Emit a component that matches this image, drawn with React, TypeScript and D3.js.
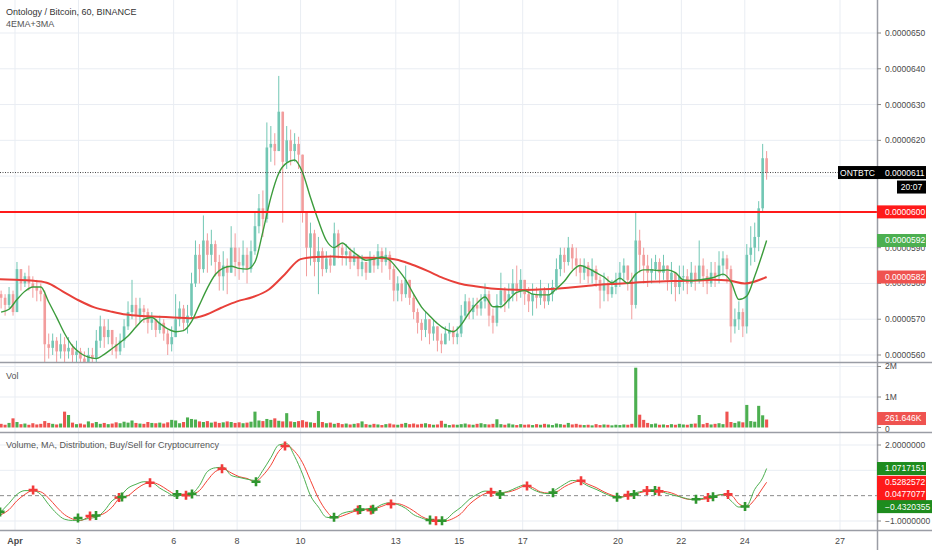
import React from "react";
import * as d3 from "d3";

// ---------- DATA ----------
// 3-hour candles [close, high, low] in units of 1e-7 BTC, starting 2019-03-31 12:00 UTC
const firstOpen = 577;
const candles: number[][] = [
  // Mar 31 (12:00-21:00)
  [576, 578, 573], [574, 577, 571], [577, 579, 573], [572, 578, 571],
  // Apr 1
  [584, 586, 572], [580, 583, 578], [582, 583, 579], [580, 585, 578], [579, 582, 576], [578, 581, 575], [577, 580, 575], [563, 578, 558],
  // Apr 2
  [562, 566, 559], [564, 566, 560], [561, 565, 558], [563, 566, 559], [561, 565, 558], [562, 565, 559], [560, 563, 557], [561, 564, 557],
  // Apr 3
  [559, 562, 556], [558, 561, 555], [560, 562, 556], [559, 562, 556], [564, 567, 558], [568, 571, 562], [565, 570, 562], [567, 570, 563],
  // Apr 4
  [563, 567, 560], [561, 565, 559], [564, 566, 560], [568, 570, 562], [572, 575, 567], [574, 581, 570], [571, 576, 568], [573, 576, 569],
  // Apr 5
  [572, 574, 569], [569, 573, 566], [570, 572, 567], [567, 570, 565], [569, 571, 566], [566, 570, 564], [563, 567, 560], [565, 568, 561],
  // Apr 6
  [570, 577, 566], [573, 575, 568], [569, 574, 567], [571, 574, 566], [580, 583, 570], [588, 592, 579], [584, 591, 580], [592, 599, 583],
  // Apr 7
  [588, 594, 583], [591, 595, 585], [586, 592, 582], [582, 588, 578], [585, 589, 578], [583, 587, 577], [590, 596, 584], [586, 594, 582],
  // Apr 8
  [585, 590, 581], [588, 592, 583], [584, 590, 580], [589, 592, 583], [596, 600, 588], [601, 605, 594], [598, 606, 593], [618, 625, 597],
  // Apr 9
  [619, 624, 614], [617, 622, 613], [628, 638, 619], [614, 628, 597], [620, 624, 612], [617, 623, 613], [619, 622, 614], [616, 621, 612],
  // Apr 10
  [600, 614, 597], [590, 600, 582], [594, 597, 585], [586, 595, 582], [589, 593, 577], [584, 590, 582], [587, 589, 583], [585, 588, 583],
  // Apr 11
  [594, 597, 588], [590, 595, 587], [588, 591, 585], [589, 591, 585], [586, 590, 584], [588, 590, 585], [584, 587, 582], [586, 588, 582],
  // Apr 12
  [583, 586, 581], [587, 589, 583], [585, 588, 583], [589, 591, 584], [586, 590, 583], [588, 590, 585], [584, 589, 581], [578, 585, 575],
  // Apr 13
  [580, 582, 575], [577, 581, 575], [581, 585, 576], [576, 581, 574], [572, 577, 570], [569, 573, 566], [567, 570, 564], [570, 572, 565],
  // Apr 14
  [566, 570, 563], [568, 570, 564], [564, 568, 561], [563, 566, 560.5], [566, 568, 563], [567, 569, 564], [565, 568, 563], [566, 568, 563],
  // Apr 15
  [571, 574, 565], [575, 577, 570], [572, 576, 570], [574, 576, 570], [573, 576, 571], [575, 577, 571], [577, 580, 573], [571, 578, 568],
  // Apr 16
  [569, 573, 566], [574, 577, 568], [578, 583, 573], [575, 579, 572], [577, 580, 573], [580, 584, 575], [578, 585, 575], [581, 584, 576],
  // Apr 17
  [577, 580, 574], [575, 579, 572], [577, 580, 571], [576, 579, 573], [578, 581, 574], [575, 579, 573], [577, 580, 574], [579, 581, 575],
  // Apr 18
  [584, 587, 578], [588, 590, 582], [586, 590, 583], [590, 593, 585], [587, 591, 584], [585, 590, 582], [583, 587, 580], [585, 587, 581],
  // Apr 19
  [582, 586, 580], [584, 587, 580], [581, 585, 579], [578, 582, 573], [580, 583, 575], [577, 582, 575], [579, 581, 576], [581, 583, 577],
  // Apr 20
  [583, 586, 579], [585, 587, 581], [581, 585, 578], [574, 583, 570], [592, 600, 573], [588, 595, 583], [585, 590, 580], [583, 588, 579],
  // Apr 21
  [584, 587, 580], [586, 588, 581], [583, 587, 580], [585, 588, 581], [581, 585, 578], [583, 586, 577], [579, 583, 575], [582, 585, 577],
  // Apr 22
  [582, 585, 578], [580, 584, 577], [583, 586, 579], [581, 585, 578], [585, 592, 580], [582, 587, 579], [580, 584, 577], [583, 586, 579],
  // Apr 23
  [582, 586, 579], [585, 589, 580], [587, 589, 582], [584, 588, 580], [568, 585, 563.5], [570, 573, 566], [572, 575, 567], [568, 573, 565],
  // Apr 24 (00:00-15:00)
  [588, 591, 566], [590, 596, 585], [593, 597, 586], [601, 603, 589], [615, 619, 600], [611, 617, 609],
];

// volume per candle, thousands
const volumesK = [
  120, 90, 150, 300,
  180, 110, 130, 90, 140, 100, 120, 210,
  150, 120, 100, 130, 520, 410, 160, 110,
  130, 100, 200, 140, 180, 120, 150, 110,
  130, 170, 140, 190, 160, 230, 150, 130,
  120, 180, 150, 140, 160, 130, 170, 250,
  230, 140, 180, 330, 280, 260, 200, 180,
  210, 160, 190, 150, 170, 200, 180, 150,
  170, 140, 160, 190, 520, 230, 210, 280,
  250, 300, 220, 200, 470, 200, 180, 210,
  240, 190, 170, 150, 540, 180, 140, 160,
  120, 150, 110, 130, 100, 120, 140, 200,
  110, 90, 120, 100, 80, 110, 130, 100,
  90, 120, 150, 110, 130, 100, 120, 140,
  110, 90, 100, 220, 120, 80, 100, 90,
  110, 130, 100, 90, 120, 140, 110, 100,
  120, 270, 110, 90, 130, 100, 80, 110,
  90, 100, 80, 110, 90, 120, 100, 80,
  130, 110, 90, 150, 100, 120, 90, 80,
  90, 70, 110, 80, 100, 90, 70, 90,
  80, 100, 90, 120, 1960, 420, 250, 150,
  110, 130, 90, 100, 80, 110, 90, 120,
  100, 90, 120, 130, 410, 110, 150, 100,
  120, 140, 110, 520, 180, 150, 200, 170,
  740, 210, 190, 710, 400, 261.646,
];

// fast EMA (green), every 6h from Mar 31 13:30, plus last value
const fastMA = [
  572, 572.8, 575.5, 577.8, 579, 579, 574.8, 570.5, 566, 562.5,
  560.5, 559.4, 559, 560.2, 561.8, 563.5, 565.3, 567.8, 570, 570.5,
  568.8, 567.3, 566.5, 566.8, 569.3, 574, 578.7, 582.5, 584.3, 584.8,
  584.2, 584, 586, 594.5, 604, 610.8, 613.7, 614.5, 611, 604,
  597.5, 592, 590, 591.3, 589.5, 587.8, 586.5, 586.8, 587.4, 586.5,
  584, 581, 577, 573.4, 571, 568.8, 567.2, 566.5, 568.5, 571.8,
  574.5, 576.2, 573.5, 573.5, 575.5, 577.5, 578, 577, 576.8, 576.8,
  578.5, 580.6, 583.5, 585, 584.2, 583, 581.8, 580.2, 581.5, 580,
  582.6, 583.8, 583.8, 583.6, 583.8, 583, 581, 580.8, 581, 581.3,
  581.8, 582.6, 580.5, 575.5, 576.5, 582, 588.5,
];
const fastMALast = 592;

// slow MA (red), every 12h from Mar 31 12:00, plus last value
const slowMA = [
  581.2, 581, 580.8, 580.2, 577.8, 575.3, 573.3, 572.2, 571.3, 570.9,
  570.7, 570.5, 570.3, 571.2, 573.2, 575, 576.2, 578.3, 582.5, 586.8,
  587.4, 587.5, 587.3, 587.2, 587.1, 586.7, 585.3, 583.5, 581.5, 580,
  579.2, 578.6, 578.3, 578.2, 578.3, 578.5, 578.9, 579.3, 579.7, 579.9,
  580.2, 580.5, 580.6, 580.7, 580.8, 581, 580.8, 580,
];
const slowMALast = 581.8;

// oscillator, every 6h, plus last value
const oscFast = [
  -0.63, -0.3, 0.05, 0.2, 0.2, 0.05, -0.35, -0.7, -0.93, -0.98,
  -0.97, -0.9, -0.85, -0.6, -0.2, -0.02, 0.3, 0.45, 0.55, 0.52,
  0.3, 0.12, -0.04, 0.05, 0.08, 0.4, 0.95, 1.1, 1.12, 0.8,
  0.72, 0.65, 0.6, 1.0, 1.5, 2.0, 2.05, 1.55, 0.85, 0.0,
  -0.45, -0.85, -0.88, -0.7, -0.62, -0.58, -0.52, -0.5, -0.35, -0.28,
  -0.35, -0.5, -0.75, -0.88, -0.98, -1.0, -0.95, -0.68, -0.45, -0.15,
  0.05, 0.18, 0.17, 0.12, 0.18, 0.32, 0.42, 0.25, 0.12, 0.08,
  0.25, 0.45, 0.6, 0.55, 0.38, 0.25, 0.1, -0.03, -0.07, 0.02,
  0.12, 0.18, 0.2, 0.18, 0.08, 0.0, -0.08, -0.15, -0.13, -0.08,
  0.0, 0.05, -0.2, -0.45, -0.4, 0.25, 0.7,
];
const oscFastLast = 1.0717151;
const oscSlow = [
  -0.75, -0.55, -0.2, 0.05, 0.2, 0.15, -0.1, -0.45, -0.75, -0.92,
  -0.98, -0.85, -0.8, -0.7, -0.45, -0.08, 0.0, 0.25, 0.45, 0.52,
  0.42, 0.22, 0.05, 0.02, 0.05, 0.2, 0.6, 0.95, 1.05, 0.9,
  0.75, 0.68, 0.55, 0.8, 1.2, 1.75, 1.98, 1.75, 1.3, 0.6,
  -0.1, -0.6, -0.88, -0.8, -0.68, -0.58, -0.55, -0.52, -0.42, -0.32,
  -0.32, -0.42, -0.6, -0.82, -0.95, -1.02, -1.0, -0.9, -0.7, -0.35,
  -0.1, 0.08, 0.15, 0.12, 0.15, 0.25, 0.38, 0.32, 0.15, 0.1,
  0.15, 0.35, 0.5, 0.58, 0.45, 0.32, 0.15, 0.02, -0.05, -0.02,
  0.08, 0.15, 0.2, 0.18, 0.15, 0.05, -0.1, -0.15, -0.15, -0.12,
  -0.02, 0.05, 0.02, -0.32, -0.43, -0.15, 0.3,
];
const oscSlowLast = 0.5282572;
const oscExtraSell = 0.0477077;
const oscExtraBuy = -0.4320355;

// buy (+ green) / sell (+ red) signals: day offset from Apr 1, value, 1 = buy / 0 = sell
const signalDays = [-0.47, 0.57, 1.985, 2.364, 2.553, 3.278, 3.372, 4.255, 5.106, 5.389, 5.578, 6.524, 7.595, 8.509, 10.054, 10.81, 10.873, 11.22, 11.283, 11.85, 13.079, 13.268, 13.457, 15.002, 15.286, 16.136, 16.955, 17.838, 18.973, 19.319, 19.508, 19.918, 20.17, 20.296, 21.462, 21.84, 21.998, 22.471, 23.007];
const signalValues = [-0.64, 0.22, -0.88, -0.8, -0.78, -0.07, -0.05, 0.51, 0.05, 0.02, 0.07, 1.06, 0.55, 1.96, -0.85, -0.57, -0.55, -0.57, -0.54, -0.33, -0.96, -0.99, -0.99, 0.13, 0.05, 0.38, 0.12, 0.59, -0.06, 0.02, 0.05, 0.2, 0.2, 0.17, -0.14, -0.07, -0.04, 0.05, -0.43];
const signalBuy = [1, 0, 1, 0, 1, 0, 1, 0, 1, 0, 1, 0, 1, 0, 1, 0, 1, 0, 1, 0, 1, 0, 1, 0, 1, 0, 1, 0, 1, 0, 1, 0, 1, 0, 1, 0, 1, 0, 1];

const dateTicks = [1, 3, 6, 8, 10, 13, 15, 17, 20, 22, 24, 27];
const dateLabels = ["Apr", "3", "6", "8", "10", "13", "15", "17", "20", "22", "24", "27"];
const priceTicks = [560, 570, 580, 590, 600, 610, 620, 630, 640, 650];
const volTicks = [0, 1000, 2000];
const volTickLabels = ["0", "1M", "2M"];
const oscTicks = [2, 1, 0, -1];

// ---------- LAYOUT ----------
const W = 932;
const H = 550;
const AX = 877;
const MAIN_BOTTOM = 362;
const VOL_BOTTOM = 432;
const OSC_BOTTOM = 530;
const FONT = "'Liberation Sans', Arial, sans-serif";
const GRID = "#e9edf3";
const TXT = "#4a4a4a";

const fmtP = (v: number) => "0.0000" + String(Math.round(v));
const fmt7 = (v: number) => (v < 0 ? "\u2212" : "") + Math.abs(v).toFixed(7);

export default function App() {
  const xDay = d3.scaleLinear().domain([0, 26]).range([15, 840]);
  const yP = d3.scaleLinear().domain([560, 650]).range([355, 33]);
  const yV = d3.scaleLinear().domain([0, 2000]).range([427.5, 366.5]);
  const yO = d3.scaleLinear().domain([-1, 2]).range([521, 445]);

  const step = xDay(1 / 8) - xDay(0);
  const bodyW = step * 0.66;
  const volW = step * 0.78;

  const bars = candles.map((c, i) => {
    const open = i === 0 ? firstOpen : candles[i - 1][0];
    const close = c[0];
    return {
      open,
      close,
      high: Math.max(c[1], open, close),
      low: Math.min(c[2], open, close),
      day: -0.5 + i / 8 + 1 / 16,
      up: close >= open,
      vol: volumesK[i],
    };
  });
  const lastDay = bars[bars.length - 1].day;

  const fastPts = fastMA.map((v, j) => ({ day: -0.4375 + j / 4, v })).concat([{ day: lastDay, v: fastMALast }]);
  const slowPts = slowMA.map((v, k) => ({ day: -0.5 + k / 2, v })).concat([{ day: lastDay, v: slowMALast }]);
  const fastOscPts = oscFast.map((v, j) => ({ day: -0.4375 + j / 4, v })).concat([{ day: lastDay, v: oscFastLast }]);
  const slowOscPts = oscSlow.map((v, j) => ({ day: -0.4375 + j / 4, v })).concat([{ day: lastDay, v: oscSlowLast }]);

  const lineP = d3
    .line<{ day: number; v: number }>()
    .x((d) => xDay(d.day))
    .y((d) => yP(d.v))
    .curve(d3.curveMonotoneX);
  const lineO = d3
    .line<{ day: number; v: number }>()
    .x((d) => xDay(d.day))
    .y((d) => yO(d.v))
    .curve(d3.curveMonotoneX);

  const upC = "#72c7b4";
  const dnC = "#f29d9d";
  const volUp = "#4caf50";
  const volDn = "#ef5350";

  const lastClose = bars[bars.length - 1].close;

  // value labels on the price scale (they cover the tick labels beneath them)
  const priceLabels = [
    { y: yP(lastClose), text: fmtP(lastClose), fill: "#000" },
    { y: yP(600), text: fmtP(600), fill: "#ff1a1a" },
    { y: yP(fastMALast), text: fmtP(fastMALast), fill: "#4caf50" },
    { y: yP(slowMALast), text: fmtP(slowMALast), fill: "#ef5350" },
  ];
  const hiddenPriceTicks = priceTicks.filter((p) => priceLabels.some((l) => Math.abs(yP(p) - l.y) < 4));
  const oscLabels = [
    { y: yO(oscFastLast), text: fmt7(oscFastLast), fill: "#1e8c1e", w: 49 },
    { y: yO(oscSlowLast), text: fmt7(oscSlowLast), fill: "#ff1a1a", w: 49 },
    { y: yO(oscExtraSell), text: fmt7(oscExtraSell), fill: "#ff1a1a", w: 49 },
    { y: yO(oscExtraBuy), text: fmt7(oscExtraBuy), fill: "#1e8c1e", w: 55 },
  ];
  const hiddenOscTicks = oscTicks.filter((v) => oscLabels.some((l) => Math.abs(yO(v) - l.y) < 6));

  const label = (y: number, text: string, fill: string, key: string, w = 49) => (
    <g key={key}>
      <rect x={AX} y={y - 6.5} width={w} height={13} fill={fill} />
      <text x={AX + 8} y={y} dy="0.35em" fontSize={8.5} fill="#fff" fontFamily={FONT}>
        {text}
      </text>
    </g>
  );

  return (
    <svg width={W} height={H} style={{ position: "absolute", left: 0, top: 0, background: "#fff" }}>
      <defs>
        <clipPath id="cMain">
          <rect x={0} y={0} width={AX} height={MAIN_BOTTOM} />
        </clipPath>
        <clipPath id="cVol">
          <rect x={0} y={MAIN_BOTTOM + 1} width={AX} height={VOL_BOTTOM - MAIN_BOTTOM - 1} />
        </clipPath>
        <clipPath id="cOsc">
          <rect x={0} y={VOL_BOTTOM + 1} width={AX} height={OSC_BOTTOM - VOL_BOTTOM - 1} />
        </clipPath>
      </defs>
      <rect x={0} y={0} width={W} height={H} fill="#fff" />

      {/* vertical grid */}
      {dateTicks.map((d) => (
        <line key={"vg" + d} x1={xDay(d - 1)} x2={xDay(d - 1)} y1={0} y2={OSC_BOTTOM} stroke={GRID} />
      ))}
      {/* horizontal grids */}
      {priceTicks.map((p) => (
        <line key={"hg" + p} x1={0} x2={AX} y1={yP(p)} y2={yP(p)} stroke={GRID} />
      ))}
      {[1000, 2000].map((v) => (
        <line key={"vgl" + v} x1={0} x2={AX} y1={yV(v)} y2={yV(v)} stroke={GRID} />
      ))}
      {[2, 1, -1].map((v) => (
        <line key={"ogl" + v} x1={0} x2={AX} y1={yO(v)} y2={yO(v)} stroke={GRID} />
      ))}

      {/* main pane */}
      <g clipPath="url(#cMain)">
        {bars.map((b, i) => {
          const x = xDay(b.day);
          const c = b.up ? upC : dnC;
          const y1 = yP(Math.max(b.open, b.close));
          const y2 = yP(Math.min(b.open, b.close));
          return (
            <g key={"c" + i}>
              <line x1={x} x2={x} y1={yP(b.high)} y2={yP(b.low)} stroke={c} strokeWidth={1} />
              <rect x={x - bodyW / 2} y={y1} width={bodyW} height={Math.max(1, y2 - y1)} fill={c} />
            </g>
          );
        })}
        <path d={lineP(slowPts) || ""} fill="none" stroke="#e8403a" strokeWidth={2} />
        <path d={lineP(fastPts) || ""} fill="none" stroke="#3c9c3c" strokeWidth={1.4} />
        <line x1={0} x2={AX} y1={yP(600)} y2={yP(600)} stroke="#ff1a1a" strokeWidth={2} />
        <line x1={0} x2={AX} y1={yP(lastClose)} y2={yP(lastClose)} stroke="#444" strokeWidth={1} strokeDasharray="1 1.5" />
      </g>

      {/* volume pane */}
      <g clipPath="url(#cVol)">
        {bars.map((b, i) => {
          const x = xDay(b.day);
          return (
            <rect
              key={"v" + i}
              x={x - volW / 2}
              y={yV(b.vol)}
              width={volW}
              height={yV(0) - yV(b.vol)}
              fill={b.up ? volUp : volDn}
            />
          );
        })}
      </g>

      {/* oscillator pane */}
      <g clipPath="url(#cOsc)">
        <line x1={0} x2={AX} y1={yO(0)} y2={yO(0)} stroke="#8a8a8a" strokeDasharray="4 3" />
        <path d={lineO(slowOscPts) || ""} fill="none" stroke="#f44336" strokeWidth={1} />
        <path d={lineO(fastOscPts) || ""} fill="none" stroke="#4caf50" strokeWidth={1} />
        {signalDays.map((d, k) => (
          <path
            key={"s" + k}
            transform={`translate(${xDay(d)},${yO(signalValues[k])})`}
            d="M-4.5,-1.3h9v2.6h-9z M-1.3,-4.5h2.6v9h-2.6z"
            fill={signalBuy[k] ? "#2f962f" : "#f23b3b"}
          />
        ))}
      </g>

      {/* pane separators and axes */}
      <line x1={0} x2={W} y1={MAIN_BOTTOM + 0.5} y2={MAIN_BOTTOM + 0.5} stroke="#9a9da5" strokeWidth={1.5} />
      <line x1={0} x2={W} y1={VOL_BOTTOM + 0.5} y2={VOL_BOTTOM + 0.5} stroke="#9a9da5" strokeWidth={1.5} />
      <line x1={0} x2={W} y1={OSC_BOTTOM + 0.5} y2={OSC_BOTTOM + 0.5} stroke="#9a9da5" strokeWidth={1.5} />
      <line x1={AX + 0.5} x2={AX + 0.5} y1={0} y2={H} stroke="#9a9da5" strokeWidth={1.5} />

      {/* titles */}
      <text x={6} y={12} dy="0.35em" fontSize={9} fill="#333" fontFamily={FONT}>
        Ontology / Bitcoin, 60, BINANCE
      </text>
      <text x={6} y={24} dy="0.35em" fontSize={9} fill="#555" fontFamily={FONT}>
        4EMA+3MA
      </text>
      <text x={6} y={376} dy="0.35em" fontSize={9} fill="#555" fontFamily={FONT}>
        Vol
      </text>
      <text x={6} y={445} dy="0.35em" fontSize={9} fill="#555" fontFamily={FONT}>
        Volume, MA, Distribution, Buy/Sell for Cryptocurrency
      </text>

      {/* price axis */}
      {priceTicks.map((p) => (
        <g key={"pt" + p}>
          <line x1={AX} x2={AX + 4} y1={yP(p)} y2={yP(p)} stroke="#888" />
          {hiddenPriceTicks.includes(p) ? null : (
            <text x={AX + 8} y={yP(p)} dy="0.35em" fontSize={8.5} fill={TXT} fontFamily={FONT}>
              {fmtP(p)}
            </text>
          )}
        </g>
      ))}
      {volTicks.map((v, k) => (
        <g key={"vt" + v}>
          <line x1={AX} x2={AX + 4} y1={yV(v)} y2={yV(v)} stroke="#888" />
          <text x={AX + 8} y={yV(v) + (v === 0 ? 1.5 : 0)} dy="0.35em" fontSize={8.5} fill={TXT} fontFamily={FONT}>
            {volTickLabels[k]}
          </text>
        </g>
      ))}
      {oscTicks.map((v) => (
        <g key={"ot" + v}>
          <line x1={AX} x2={AX + 4} y1={yO(v)} y2={yO(v)} stroke="#888" />
          {hiddenOscTicks.includes(v) ? null : (
            <text x={AX + 8} y={yO(v)} dy="0.35em" fontSize={8.5} fill={TXT} fontFamily={FONT}>
              {fmt7(v)}
            </text>
          )}
        </g>
      ))}

      {/* date axis */}
      {dateTicks.map((d, k) => (
        <text
          key={"dt" + d}
          x={xDay(d - 1)}
          y={541}
          dy="0.35em"
          textAnchor="middle"
          fontSize={9}
          fill={TXT}
          fontFamily={FONT}
          fontWeight={k === 0 ? "bold" : "normal"}
        >
          {dateLabels[k]}
        </text>
      ))}

      {/* last value labels */}
      <rect x={838} y={yP(lastClose) - 6.5} width={AX - 838} height={13} fill="#000" />
      <text x={(838 + AX) / 2} y={yP(lastClose)} dy="0.35em" textAnchor="middle" fontSize={8.5} fill="#fff" fontFamily={FONT}>
        ONTBTC
      </text>
      {priceLabels.map((l, k) => label(l.y, l.text, l.fill, "pl" + k))}
      <rect x={897} y={yP(lastClose) + 8} width={29} height={13} fill="#000" />
      <text x={911.5} y={yP(lastClose) + 14.5} dy="0.35em" textAnchor="middle" fontSize={8.5} fill="#fff" fontFamily={FONT}>
        20:07
      </text>
      {label(yV(bars[bars.length - 1].vol) - 1, "261.646K", "#ef5350", "lvol")}
      {oscLabels.map((l, k) => label(l.y, l.text, l.fill, "ol" + k, l.w))}
    </svg>
  );
}
